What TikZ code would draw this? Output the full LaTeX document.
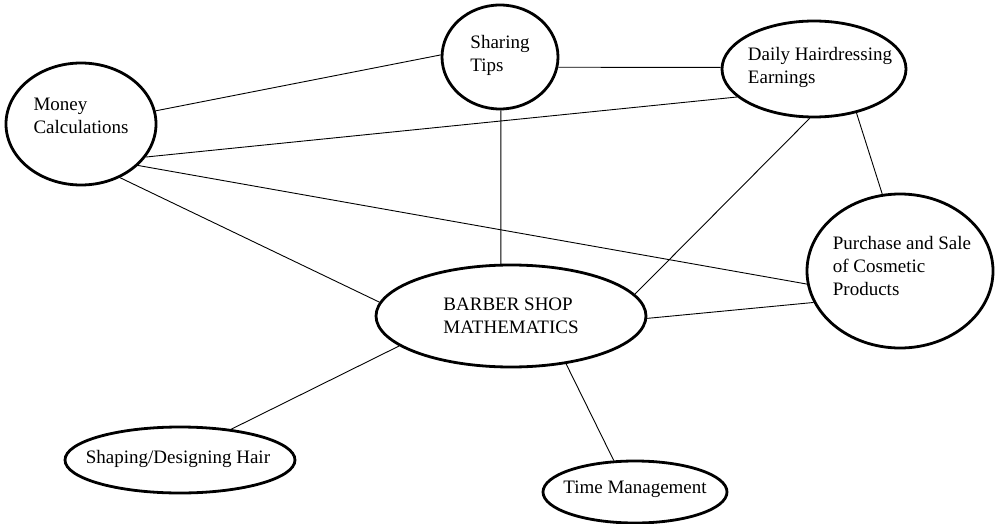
\documentclass[tikz,border=0pt]{standalone}
\usepackage{fontspec}
\setmainfont{Liberation Serif}
\usetikzlibrary{shapes.geometric}
\begin{document}
\begin{tikzpicture}[x=1pt,y=-1pt,
  topic/.style={draw=black, line width=2.8pt, ellipse, inner sep=0pt},
  txt/.style={align=left, inner sep=0pt, font=\fontsize{19}{23}\selectfont},
  link/.style={draw=black, line width=0.9pt}]
\useasboundingbox[fill=white] (0,0) rectangle (995,524);

% topic ellipses, with their captions placed at the centre
\node[topic, minimum width=150pt, minimum height=122pt,
  label={[txt, yshift=8pt]center:Money\\Calculations}] (money) at (81,124) {};
\node[topic, minimum width=116pt, minimum height=104pt,
  label={[txt, yshift=2pt]center:Sharing\\Tips}] (tips) at (500,57) {};
\node[topic, minimum width=184pt, minimum height=96pt,
  label={[txt, xshift=6pt, yshift=2pt]center:Daily Hairdressing\\Earnings}] (daily) at (814,69) {};
\node[topic, minimum width=186pt, minimum height=154pt,
  label={[txt, xshift=2pt, yshift=5pt]center:Purchase and Sale\\of Cosmetic\\Products}] (sale) at (900,271) {};
\node[topic, minimum width=270pt, minimum height=102pt,
  label={[txt]center:BARBER SHOP\\MATHEMATICS}] (barber) at (511,316) {};
\node[topic, minimum width=230pt, minimum height=66pt,
  label={[txt, xshift=-2pt, yshift=1pt]center:Shaping/Designing Hair}] (shape) at (180,460) {};
\node[topic, minimum width=184pt, minimum height=62pt,
  label={[txt, yshift=3pt]center:Time Management}] (time) at (635,492) {};

% plain connecting lines
\draw[link] (money.10) -- (tips.178);
\draw[link] (money.-27) -- (daily.200);
\draw[link] (money.-36) -- (sale.188);
\draw[link] (money.-54) -- (barber.174);
\draw[link] (tips.-10) -- (daily.179);
\draw[link] (tips.-89) -- (barber.101);
\draw[link] (daily.265) -- (barber.10);
\draw[link] (daily.-46) -- (sale.103);
\draw[link] (sale.200) -- (barber.-1);
\draw[link] (barber.195.6) -- (shape.31.6);
\draw[link] (barber.-41) -- (time.124);
\end{tikzpicture}
\end{document}
